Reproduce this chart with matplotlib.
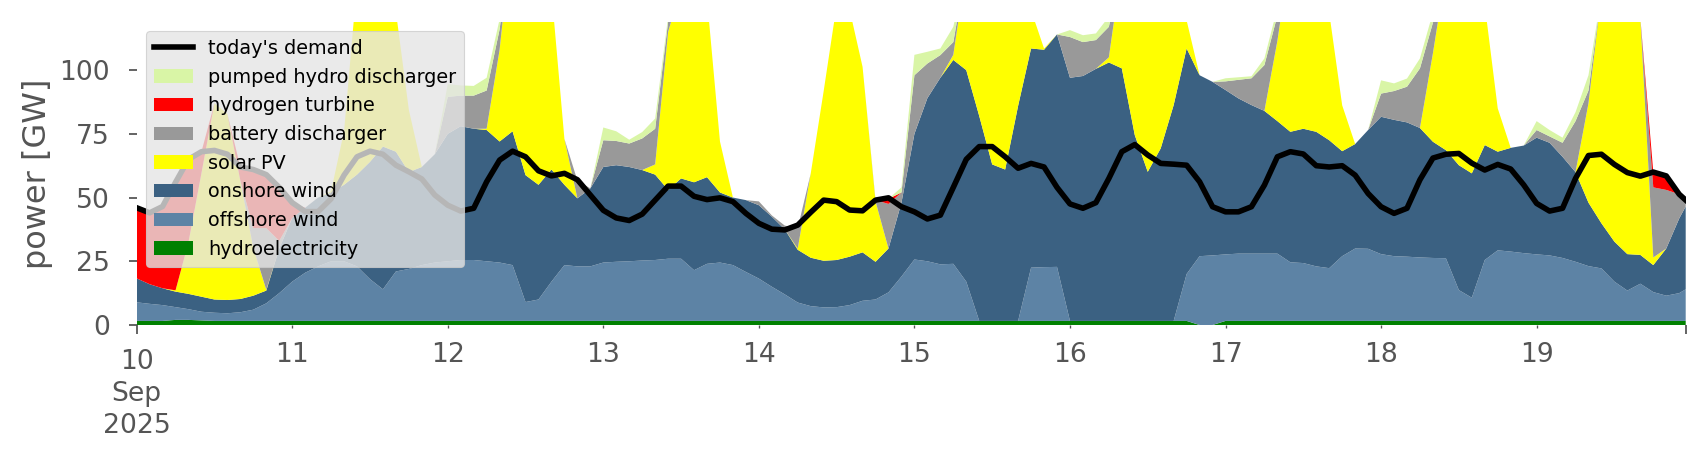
import numpy as np
import pandas as pd
import matplotlib
matplotlib.use("Agg")
import matplotlib.pyplot as plt
import matplotlib.dates as mdates

plt.style.use("ggplot")

# ---------------------------
# Data (GW), 2-hourly from 10 Sep 2025 00:00, last point 19 Sep 23:00
# ---------------------------
hours = list(range(0, 240, 2)) + [239]
times = (pd.Timestamp("2025-09-10") + pd.to_timedelta(hours, unit="h")).to_numpy()

hydro = [1.6, 1.6, 1.6, 2.0, 2.0, 1.8, 1.6, 1.6, 1.6, 1.6, 1.6, 1.6,
         1.6, 1.6, 1.6, 1.6, 1.6, 1.6, 1.6, 1.6, 1.6, 1.6, 1.6, 1.6,
         1.6, 1.6, 1.6, 1.6, 1.6, 1.6, 1.6, 1.6, 1.6, 1.6, 1.6, 1.6,
         1.6, 1.6, 1.6, 1.6, 1.6, 1.6, 1.6, 1.6, 1.6, 1.6, 1.6, 1.6,
         1.6, 1.6, 1.6, 1.6, 1.6, 1.6, 1.6, 1.6, 1.6, 1.6, 1.6, 1.6,
         1.6, 1.6, 1.6, 1.6, 1.6, 1.6, 1.6, 1.6, 1.6, 1.6, 1.6, 1.6,
         1.6, 1.6, 1.6, 1.6, 1.6, 1.6, 1.6, 1.6, 1.6, 1.6, 0.0, 0.0,
         1.6, 1.6, 1.6, 1.6, 1.6, 1.6, 1.6, 1.6, 1.6, 1.6, 1.6, 1.6,
         1.6, 1.6, 1.6, 1.6, 1.6, 1.6, 1.6, 1.6, 1.6, 1.6, 1.6, 1.6,
         1.6, 1.6, 1.6, 1.6, 1.6, 1.6, 1.6, 1.6, 1.6, 1.6, 1.6, 1.6,
         1.6]

offshore = [7.3, 6.7, 6.2, 5.0, 4.2, 3.4, 3.2, 3.0, 3.4, 4.4, 6.9, 10.9,
            15.4, 18.9, 21.4, 23.4, 23.4, 21.4, 16.4, 12.4, 19.4, 20.4, 21.9, 22.9,
            23.4, 23.9, 23.9, 23.4, 22.9, 21.9, 7.4, 8.4, 15.4, 21.9, 21.4, 21.4,
            22.9, 23.2, 23.4, 23.7, 23.9, 24.4, 24.4, 19.9, 22.4, 22.9, 21.9, 19.2,
            16.6, 13.4, 10.4, 7.2, 5.8, 5.3, 5.4, 6.2, 7.9, 8.4, 11.2, 17.4,
            24.1, 23.4, 22.2, 22.4, 15.4, 0, 0, 0, 0, 20.9, 21.1, 21.2,
            0, 0, 0, 0, 0, 0, 0, 0, 0, 18.4, 27.0, 27.3,
            26.1, 26.4, 26.4, 26.4, 26.4, 23.0, 22.7, 21.4, 20.7, 25.4, 28.4, 28.3,
            26.2, 25.4, 25.2, 24.9, 24.7, 24.6, 12.1, 9.1, 23.9, 27.7, 27.2, 26.6,
            26.1, 25.7, 24.7, 23.2, 21.5, 20.6, 15.4, 11.9, 14.6, 11.3, 9.9, 10.9,
            12.4]

onshore = [9.4, 7.7, 6.6, 6.1, 6.0, 5.9, 5.2, 5.2, 5.2, 5.5, 5.0, 17.5,
           25, 25.5, 27, 27, 30, 36, 46, 56, 47, 38, 38.5, 42.5,
           50, 52.5, 51.5, 51.5, 47.5, 52.5, 49.8, 45, 44, 31.5, 26.7, 30.6,
           37.5, 37.9, 37, 35.5, 33.5, 27, 31.5, 34.5, 34, 27.5, 26.5, 28.2,
           28.8, 27.5, 25.5, 20.7, 19, 18.3, 18.5, 19, 19, 14.8, 17.2, 29,
           49.3, 64, 73.2, 80, 83, 80.4, 61.4, 59.4, 84.4, 86, 85.3, 91.2,
           95.4, 96.1, 98.9, 101.4, 99.1, 72.9, 58.5, 67.7, 84.7, 88.5, 71, 68.1,
           64.5, 60.9, 58.3, 56, 52, 51.2, 52.7, 52.8, 50.2, 41.2, 41, 46.6,
           53.9, 53.5, 52.7, 50.8, 45.6, 42.4, 49, 48.8, 45.1, 38.7, 40.7, 42.2,
           45.8, 44.2, 39.7, 35.2, 24.9, 17.7, 15.7, 14.3, 11.3, 10.6, 18.5, 29.3,
           32.5]

solar = [0, 0, 0, 0.5, 20.3, 48.5, 77, 73, 46.4, 18.8, 0.3, 0,
         0, 0, 0, 0.5, 21, 75, 85, 80, 55, 24.4, 0, 0,
         0, 0, 0, 0.5, 36, 80, 70, 75, 70, 18, 0, 0,
         0, 0, 0, 0, 4, 62, 75, 80, 70, 20, 0, 0,
         0, 0, 0, 0.5, 33, 66.6, 100, 97, 72.8, 23.7, 0, 0,
         0, 0, 0, 2, 40, 60, 70, 72, 45, 15, 0.5, 0,
         0, 0, 0, 2, 40, 70, 85, 80, 60, 11, 0, 0,
         0, 0, 0, 0, 31.4, 70, 60, 60, 50, 18, 0, 0,
         0, 0, 0, 0, 34.7, 70, 70, 70, 55, 17, 0, 0,
         0, 0, 0, 0, 39, 90, 100, 100, 93, 3, 0, 0,
         0]

battery = [0, 0, 0, 0, 0, 0, 0, 0, 0, 7.7, 24.2, 3,
           0, 0, 0, 0, 0, 0, 0, 0, 0, 0, 0, 0,
           14.5, 12, 13, 15, 8, 0, 0, 0, 0, 0, 7, 0,
           10.5, 9.5, 9.2, 12.4, 14, 4, 0, 0, 0, 0, 0, 0,
           1.5, 0.5, 1.5, 8, 0, 0, 0, 0, 0, 0.5, 17.5, 4,
           23, 13.6, 8.9, 5, 0, 0, 0, 0, 0, 0, 0, 0,
           16, 13.3, 11.3, 12, 0, 0, 0, 0, 0, 0, 0, 0,
           3.4, 7.3, 10.5, 18, 10, 0, 0, 0, 0, 0, 0, 0,
           9.1, 11.3, 14, 23.4, 12, 0, 0, 0, 0, 0, 0, 0,
           3, 2.5, 5.5, 20, 5, 0, 0, 0, 0, 27.5, 23, 9.5,
           2.5]

hydrogen = [27.7, 28, 32.1, 42.4, 32.5, 8.4, 0, 0, 5.4, 23, 21, 21,
            6, 0, 0, 0, 0, 0, 0, 0, 0, 0, 0, 0,
            0, 0, 0, 0, 0, 0, 0, 0, 0, 0, 0, 0,
            0, 0, 0, 0, 0, 0, 0, 0, 0, 0, 0, 0,
            0, 0, 0, 0, 0, 0, 0, 0, 0, 0, 2, 0,
            0, 0, 0, 0, 0, 0, 0, 0, 0, 0, 0, 0,
            0, 0, 0, 0, 0, 0, 0, 0, 0, 0, 0, 0,
            0, 0, 0, 0, 0, 0, 0, 0, 0, 0, 0, 0,
            0, 0, 0, 0, 0, 0, 0, 0, 0, 0, 0, 0,
            0, 0, 0, 0, 0, 0, 0, 0, 0, 6, 5.5, 0,
            0]

pumped = [0, 0, 0, 0, 0, 0, 0, 0, 0, 0, 0, 0,
          0, 0, 0, 0, 0, 0, 0, 0, 0, 0, 0, 0,
          5, 4, 3.8, 5, 4, 0, 0, 0, 0, 0, 0, 0,
          5, 3.8, 1.5, 2.5, 4, 2, 0, 0, 0, 0, 0, 0,
          0, 0, 0, 0, 0, 0, 0, 0, 0, 0, 0, 2,
          8, 4.6, 2.6, 6, 0, 0, 0, 0, 0, 0, 0, 0,
          2.7, 2.7, 2.6, 4, 0, 0, 0, 0, 0, 0, 0, 0,
          1.2, 1, 0.8, 2.6, 3, 0, 0, 0, 0, 0, 0, 0,
          5.2, 3, 3.2, 3.9, 4, 0, 0, 0, 0, 0, 0, 0,
          3.5, 2.5, 2, 3.5, 6, 0, 0, 0, 0, 0, 0, 0,
          0]

demand = [46, 44, 46.5, 56, 65, 68, 68.5, 67, 62, 61, 59, 54,
          48, 44.5, 44.5, 49.5, 58.8, 66, 68.2, 67, 62.7, 60.1, 57.3, 51,
          47, 44.7, 45.8, 56.2, 64.7, 68.2, 66, 60.5, 58.5, 59.5, 57, 51,
          45, 42, 41, 43.5, 49, 54.5, 54.5, 50.5, 49.2, 49.9, 48.4, 43.8,
          39.9, 37.6, 37.3, 39.2, 44.2, 49, 48.4, 45.1, 44.8, 49, 49.9, 46.4,
          44.4, 41.6, 43.1, 54, 65, 70, 70, 66, 61.5, 63.4, 62, 54,
          47.5, 45.8, 48, 57.5, 68, 70.8, 66.7, 63.4, 63.1, 62.7, 56.2, 46.4,
          44.4, 44.4, 46.4, 54.9, 66, 68, 67.1, 62.5, 62, 62.5, 58.8, 51.6,
          46.4, 43.8, 45.8, 57, 65.5, 67, 67.3, 63.5, 60.8, 63, 61.2, 55,
          47.7, 44.7, 45.8, 57.5, 66.5, 67, 63, 59.8, 58.4, 60, 58.5, 51.3,
          49]

labels = ["hydroelectricity", "offshore wind", "onshore wind", "solar PV",
          "battery discharger", "hydrogen turbine", "pumped hydro discharger"]
colors = ["#008000", "#5d83a5", "#3b6182", "#ffff00",
          "#999999", "#ff0000", "#d9f5a6"]

# ---------------------------
# Plot
# ---------------------------
fig, ax = plt.subplots(figsize=(10.6625, 2.875), dpi=160)
fig.subplots_adjust(left=0.0801, right=0.9881, top=0.9528, bottom=0.2935)
ax.set_facecolor("white")
ax.grid(False)
for s in ax.spines.values():
    s.set_visible(False)

polys = ax.stackplot(times, hydro, offshore, onshore, solar, battery, hydrogen, pumped,
                     colors=colors, labels=labels, linewidth=0)
line, = ax.plot(times, demand, color="black", lw=2.5, label="today's demand")

ax.set_xlim(times[0], times[-1])
ax.set_ylim(0, 119)
ax.set_yticks([0, 25, 50, 75, 100])
ax.set_ylabel("power [GW]", fontsize=14.4, color="#555555", labelpad=3)

days = pd.date_range("2025-09-11", "2025-09-19", freq="D")
ax.set_xticks(mdates.date2num([times[0], times[-1]]), ["10\nSep\n2025", ""])
ax.set_xticks(mdates.date2num(days), [str(d.day) for d in days], minor=True)
ax.tick_params(axis="both", which="both", colors="#555555", labelsize=12)
ax.tick_params(axis="x", which="major", length=4, pad=6.8)
ax.tick_params(axis="x", which="minor", length=1.5, pad=6.2)
ax.tick_params(axis="y", which="major", length=3.5, pad=8.5)
for t in ax.get_xticklabels():
    t.set_linespacing(1.3)

handles = [line] + polys[::-1]
ax.legend(handles, [h.get_label() for h in handles], loc="upper left",
          fontsize=8.7, facecolor="#e5e5e5", edgecolor="#cccccc",
          framealpha=0.8, labelspacing=0.5)

fig.savefig("out.png", dpi=160)
